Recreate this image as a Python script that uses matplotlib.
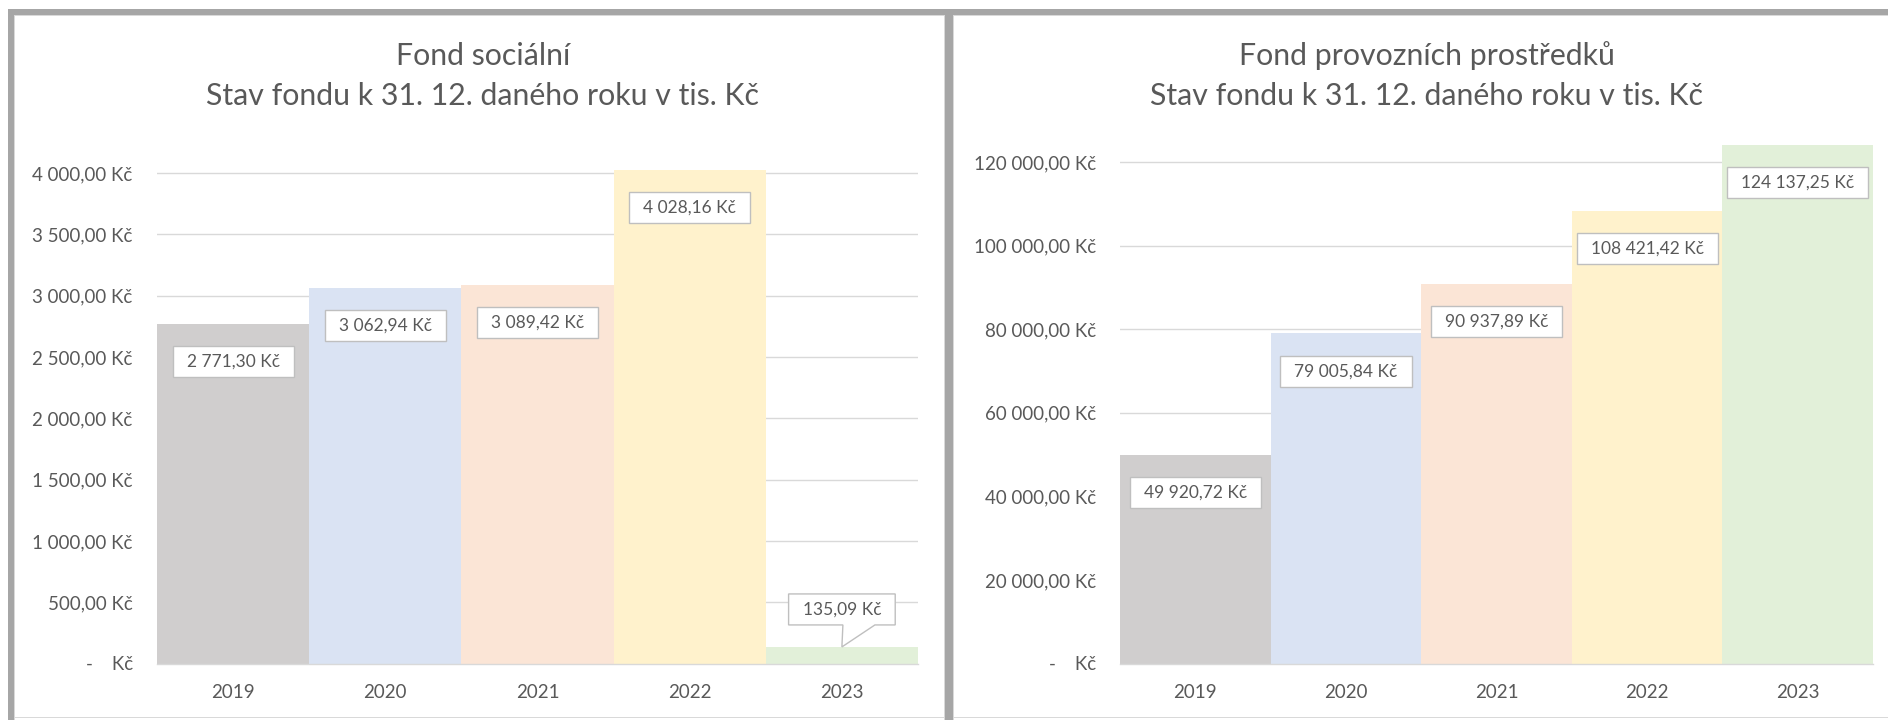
import matplotlib
matplotlib.use('Agg')
import matplotlib.pyplot as plt
from matplotlib.patches import Rectangle, Polygon
from matplotlib.transforms import IdentityTransform
from matplotlib.ticker import FuncFormatter, MultipleLocator

# ---------------- data ----------------
years = ['2019', '2020', '2021', '2022', '2023']
fond_socialni = [2771.30, 3062.94, 3089.42, 4028.16, 135.09]
fond_provozni = [49920.72, 79005.84, 90937.89, 108421.42, 124137.25]
bar_colors = ['#D0CECE', '#DAE3F3', '#FBE5D6', '#FFF2CC', '#E2F0D9']
title_left = ['Fond sociální', 'Stav fondu k 31. 12. daného roku v tis. Kč']
title_right = ['Fond provozních prostředků', 'Stav fondu k 31. 12. daného roku v tis. Kč']

W, H = 1888, 720
FONT = ['Lato', 'DejaVu Sans']
plt.rcParams['font.family'] = FONT
TXT = '#595959'
GRID = '#D9D9D9'


def fmt_czk(v, pos=None):
    if abs(v) < 1e-9:
        return '-    Kč'
    s = f'{v:,.2f}'.replace(',', ' ').replace('.', ',')
    return s + ' Kč'


fig = plt.figure(figsize=(W / 100, H / 100), dpi=100)
fig.patch.set_facecolor('white')


def px_axes(x0, x1, ytop, ybot):
    return fig.add_axes([x0 / W, 1 - ybot / H, (x1 - x0) / W, (ybot - ytop) / H])


def setup(ax, values, ymax, step):
    x = list(range(len(years)))
    ax.bar(x, values, width=1.0, color=bar_colors, zorder=2, linewidth=0)
    ax.set_xlim(-0.5, len(years) - 0.5)
    ax.set_ylim(0, ymax)
    ax.yaxis.set_major_locator(MultipleLocator(step))
    ax.yaxis.set_major_formatter(FuncFormatter(fmt_czk))
    ax.set_xticks(x)
    ax.set_xticklabels(years)
    ax.yaxis.grid(True, color=GRID, linewidth=1.0, zorder=0)
    ax.set_axisbelow(True)
    for s in ['top', 'left', 'right']:
        ax.spines[s].set_visible(False)
    ax.spines['bottom'].set_color(GRID)
    ax.spines['bottom'].set_linewidth(1.0)
    ax.spines['bottom'].set_zorder(3)
    ax.tick_params(axis='both', length=0, colors=TXT, labelsize=13.5)
    ax.tick_params(axis='y', pad=17.5)
    ax.tick_params(axis='x', pad=14.5)
    ax.set_facecolor('none')


axL = px_axes(157, 918, 169.4, 663.5)
setup(axL, fond_socialni, 4030, 500)
axR = px_axes(1120, 1873, 144.7, 663.5)
setup(axR, fond_provozni, 124200, 20000)

# titles
for cx, lines in [(483, title_left), (1427, title_right)]:
    fig.text(cx / W, 1 - 56 / H, lines[0], ha='center', va='center', fontsize=21.8, color=TXT)
    fig.text(cx / W, 1 - 96 / H, lines[1], ha='center', va='center', fontsize=21.8, color=TXT)

# data labels (inside end)
LBL_FS = 12.5
labels = []
for ax, vals in [(axL, fond_socialni), (axR, fond_provozni)]:
    for i, v in enumerate(vals):
        if ax is axL and i == 4:
            continue
        t = ax.annotate(fmt_czk(v), xy=(i, v), xytext=(0, -27.2), textcoords='offset points',
                        ha='center', va='center', fontsize=LBL_FS, color=TXT, zorder=6,
                        annotation_clip=False)
        labels.append((ax, t))

# callout label for small bar
tc = axL.annotate(fmt_czk(fond_socialni[4]), xy=(4, fond_socialni[4]), xytext=(0, 27),
                  textcoords='offset points', ha='center', va='center', fontsize=LBL_FS,
                  color=TXT, zorder=6, annotation_clip=False)

fig.canvas.draw()
r = fig.canvas.get_renderer()
BOXH = 31
PADX = 14
for ax, t in labels:
    bb = t.get_window_extent(r)
    cx = (bb.x0 + bb.x1) / 2
    cy = (bb.y0 + bb.y1) / 2
    w = bb.width + 2 * PADX
    rect = Rectangle((cx - w / 2, cy - BOXH / 2), w, BOXH, transform=IdentityTransform(),
                     facecolor='white', edgecolor='#BFBFBF', linewidth=1.0, zorder=5)
    rect.set_clip_on(False)
    ax.add_artist(rect)

bb = tc.get_window_extent(r)
cx = (bb.x0 + bb.x1) / 2
cy = (bb.y0 + bb.y1) / 2
w = bb.width + 2 * PADX
tip = axL.transData.transform((4, fond_socialni[4]))
L, R_ = cx - w / 2, cx + w / 2
B, T = cy - BOXH / 2, cy + BOXH / 2
poly = Polygon([(L, B), (tip[0] + 1, B), (tip[0], tip[1]), (tip[0] + 33, B), (R_, B), (R_, T), (L, T)],
               closed=True, transform=IdentityTransform(), facecolor='white',
               edgecolor='#BFBFBF', linewidth=1.0, zorder=5)
poly.set_clip_on(False)
axL.add_artist(poly)


# frame
def px_rect(x0, y0, x1, y1, color, z=10):
    fig.add_artist(Rectangle((x0 / W, 1 - y1 / H), (x1 - x0) / W, (y1 - y0) / H,
                             transform=fig.transFigure, facecolor=color, linewidth=0, zorder=z))


DARK = '#A6A6A6'
LIGHT = '#D9D9D9'
px_rect(8, 9, W, 15, DARK)
px_rect(8, 9, 14, H, DARK)
px_rect(945, 9, 953, H, DARK)
px_rect(14, 15, W, 16, LIGHT, 9)
px_rect(14, 15, 15, H, LIGHT, 9)
px_rect(944, 15, 945, H, LIGHT, 9)
px_rect(953, 15, 954, H, LIGHT, 9)
px_rect(14, 717, W, 718, LIGHT, 9)

fig.savefig('out.png', dpi=100)
